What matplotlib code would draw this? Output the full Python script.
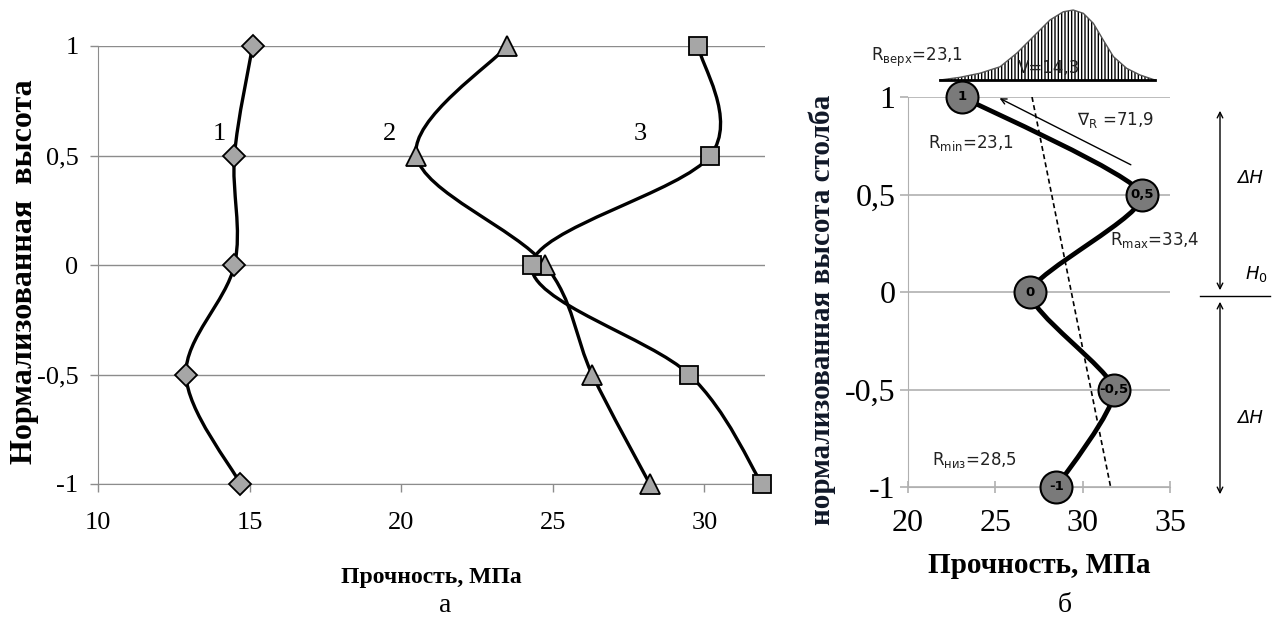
""" Прочность по высоте столба: а) три серии, б) схема с распределением """
import numpy as np
import matplotlib.pyplot as plt
from matplotlib.path import Path
from matplotlib.patches import PathPatch, FancyArrowPatch

plt.rcParams['font.family'] = ['Liberation Serif', 'DejaVu Serif']
plt.rcParams['mathtext.fontset'] = 'dejavusans'

# --- данные, рисунок а ---
heights = [1, 0.5, 0, -0.5, -1]
series1 = [15.1, 14.5, 14.5, 12.9, 14.7]    # ромбы
series2 = [23.5, 20.5, 24.75, 26.3, 28.2]   # треугольники
series3 = [29.8, 30.2, 24.3, 29.5, 31.9]    # квадраты
series_names = ['1', '2', '3']
name_x = [14.0, 19.6, 27.9]
name_y = [0.6, 0.6, 0.6]
left_xticks = [10, 15, 20, 25, 30]
yticks = [-1, -0.5, 0, 0.5, 1]
ytick_labels = ['-1', '-0,5', '0', '0,5', '1']

# --- данные, рисунок б ---
column_r = [23.1, 33.4, 27.0, 31.8, 28.5]
point_labels = ['1', '0,5', '0', '-0,5', '-1']
trend_x = [27.1, 31.6]
trend_y = [1, -1]
bell_x = [21.83, 22.98, 24.12, 25.27, 26.22, 27.17, 28.13, 28.89,
          29.46, 30.04, 30.61, 31.18, 31.76, 32.52, 33.28, 34.14]
bell_y = [1.087, 1.101, 1.122, 1.155, 1.224, 1.309, 1.395, 1.437,
          1.446, 1.429, 1.378, 1.292, 1.207, 1.147, 1.113, 1.087]
right_xticks = [20, 25, 30, 35]
notes = [r'R$_{\mathrm{верх}}$=23,1', 'V=14,3', r'∇$_{\mathrm{R}}$ =71,9',
         r'R$_{\mathrm{min}}$=23,1', r'R$_{\mathrm{max}}$=33,4',
         r'R$_{\mathrm{низ}}$=28,5']
note_x = [20.5, 28.1, 31.85, 23.6, 34.1, 23.8]
note_y = [1.205, 1.149, 0.882, 0.764, 0.267, -0.862]


def smooth_path(xs, ys, k=6.0):
    """ сглаженная линия как в Excel (Catmull-Rom -> кривые Безье) """
    p = np.column_stack([xs, ys]).astype(float)
    ext = np.vstack([p[0], p, p[-1]])
    verts = [p[0]]
    codes = [Path.MOVETO]
    for i in range(len(p) - 1):
        p0, p1, p2, p3 = ext[i], ext[i + 1], ext[i + 2], ext[i + 3]
        verts += [p1 + (p2 - p0) / k, p2 - (p3 - p1) / k, p2]
        codes += [Path.CURVE4] * 3
    return Path(verts, codes)


def px(x, y):
    """ пиксели -> доли фигуры """
    return x / 1279, 1 - y / 621


fig = plt.figure(figsize=(12.79, 6.21), dpi=100)

# ===== рисунок а =====
ax = fig.add_axes([98 / 1279, 1 - 484 / 621, 667 / 1279, 438 / 621])
ax.set_xlim(10, 32)
ax.set_ylim(-1, 1)
for s, m, ms in [(series1, 'D', 11), (series2, '^', 14), (series3, 's', 13)]:
    ax.add_patch(PathPatch(smooth_path(s, heights), fill=False, lw=2.4,
                           edgecolor='black', zorder=3, clip_on=False))
    ax.plot(s, heights, ls='none', marker=m, ms=ms, mfc='#a6a6a6',
            mec='black', mew=1.3, zorder=4, clip_on=False)
for t, x, y in zip(series_names, name_x, name_y):
    ax.text(x, y, t, fontsize=19, ha='center', va='center')

ax.set_xticks(left_xticks)
ax.set_yticks(yticks)
ax.set_yticklabels(ytick_labels)
ax.grid(axis='y', color='#8c8c8c', lw=1)
ax.set_axisbelow(True)
for sp in ['top', 'right']:
    ax.spines[sp].set_visible(False)
ax.spines['left'].set_color('#8c8c8c')
ax.spines['bottom'].set_color('#8c8c8c')
ax.tick_params(colors='#8c8c8c', labelcolor='black', labelsize=19,
               length=6, width=1)
ax.tick_params(axis='x', pad=14)
ax.tick_params(axis='y', pad=8)
ax.set_xlabel('Прочность, МПа', fontsize=17, fontweight='bold', labelpad=24)
fig.text(*px(25, 272), 'Нормализованная  высота', fontsize=23,
         fontweight='bold', rotation=90, ha='center', va='center')
fig.text(*px(445, 606), 'а', fontsize=20, ha='center', va='center')

# ===== рисунок б =====
bx = fig.add_axes([908 / 1279, 1 - 487 / 621, 262 / 1279, 390 / 621])
bx.set_xlim(20, 35)
bx.set_ylim(-1, 1)
bx.add_patch(PathPatch(smooth_path(column_r, heights, k=10), fill=False,
                       lw=3.4, edgecolor='black', zorder=3))
bx.plot(column_r, heights, ls='none', marker='o', ms=23, mfc='#7a7a7a',
        mec='black', mew=1.5, zorder=4, clip_on=False)
for x, y, t in zip(column_r, heights, point_labels):
    bx.text(x, y, t, fontsize=9.5, fontweight='bold', family='DejaVu Sans',
            ha='center', va='center', zorder=5)
bx.plot(trend_x, trend_y, color='black', ls=(0, (3, 2)), lw=1.2, zorder=2)

# распределение над графиком
bx.fill_between(bell_x, bell_y[0], bell_y, facecolor='none',
                edgecolor='black', hatch='|||||', lw=0, clip_on=False)
bx.plot(bell_x, bell_y, color='#555555', lw=1, clip_on=False)
bx.plot([bell_x[0], bell_x[-1]], [bell_y[0], bell_y[-1]], color='black',
        lw=2, clip_on=False)

bx.annotate('', xy=(25.1, 1.0), xytext=(32.9, 0.646),
            arrowprops=dict(arrowstyle='->', lw=1, color='black'))

for t, x, y in zip(notes, note_x, note_y):
    bx.text(x, y, t, family='DejaVu Sans', fontsize=12, color='#222222',
            ha='center', va='center', clip_on=False)

bx.set_xticks(right_xticks)
bx.set_yticks(yticks)
bx.set_yticklabels(ytick_labels)
bx.grid(axis='y', color='#b0b0b0', lw=1.2)
bx.set_axisbelow(True)
for sp in ['top', 'right']:
    bx.spines[sp].set_visible(False)
bx.spines['left'].set_color('#b0b0b0')
bx.spines['bottom'].set_color('#b0b0b0')
bx.tick_params(colors='#b0b0b0', labelcolor='black', labelsize=23,
               width=1.2)
bx.tick_params(axis='x', direction='inout', length=8, pad=12)
bx.tick_params(axis='y', length=6, pad=3)
bx.set_xlabel('Прочность, МПа', fontsize=21, fontweight='bold', labelpad=10)
fig.text(*px(822, 310), 'нормализованная высота столба', fontsize=21,
         fontweight='bold', rotation=90, ha='center', va='center',
         color='#101828')
fig.text(*px(1065, 606), 'б', fontsize=20, ha='center', va='center')

# ΔH, H0 справа
fig.add_artist(plt.Line2D([px(1200, 0)[0], px(1270, 0)[0]],
                          [px(0, 296)[1]] * 2, color='black', lw=1))
for y0, y1 in [(108, 293), (299, 497)]:
    fig.add_artist(FancyArrowPatch(
        px(1220, y1), px(1220, y0), transform=fig.transFigure,
        arrowstyle='<->', mutation_scale=10, lw=1, color='black'))
it = dict(fontsize=13, style='italic', family='DejaVu Sans', ha='center',
          va='center')
fig.text(*px(1250, 178), 'ΔH', **it)
fig.text(*px(1256, 274), r'$H_0$', fontsize=13, ha='center', va='center')
fig.text(*px(1250, 418), 'ΔH', **it)

fig.savefig('out.png', dpi=100)
